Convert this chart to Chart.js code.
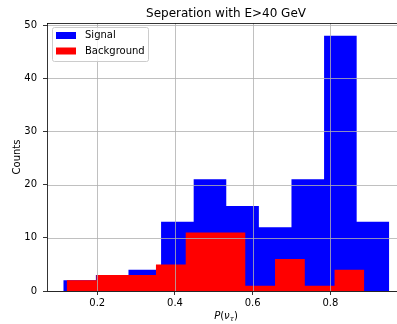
<!DOCTYPE html>
<html>
<head>
<meta charset="utf-8">
<script src="https://cdn.jsdelivr.net/npm/chart.js@4.4.0/dist/chart.umd.min.js"></script>
<style>
  html, body { margin: 0; padding: 0; background: #fff; overflow: hidden; }
  canvas { display: block; }
</style>
</head>
<body>
<canvas id="myChart" width="397" height="324"></canvas>
<script>
// histogram bin edges and counts
const signalEdges = [0.1125, 0.1964, 0.2803, 0.3642, 0.4481, 0.532, 0.6159, 0.6998, 0.7837, 0.8676, 0.9515];
const signalCounts = [2, 3, 4, 13, 21, 16, 12, 21, 48, 13];
const backgroundEdges = [0.1212, 0.1978, 0.2744, 0.351, 0.4276, 0.5042, 0.5809, 0.6575, 0.7341, 0.8107, 0.8873];
const backgroundCounts = [2, 3, 3, 5, 11, 11, 1, 6, 1, 4];
const xTicks = [0.2, 0.4, 0.6, 0.8];
const yTicks = [0, 10, 20, 30, 40, 50];
const chartTitle = "Seperation with E>40 GeV";
const yTitle = "Counts";

const FONT = '"DejaVu Sans", sans-serif';

// step points: each bin value holds from its left edge to the next edge
function histPoints(edges, counts) {
    const pts = counts.map((c, i) => ({ x: edges[i], y: c }));
    pts.push({ x: edges[edges.length - 1], y: counts[counts.length - 1] });
    return pts;
}

const overlay = {
    id: "overlay",
    afterDatasetsDraw(chart) {
        const { ctx, chartArea: a, scales: { x, y } } = chart;
        ctx.save();
        // grid sits above the bars like in matplotlib
        ctx.strokeStyle = "#b0b0b0";
        ctx.lineWidth = 0.8;
        ctx.beginPath();
        xTicks.forEach((v) => {
            const px = Math.round(x.getPixelForValue(v)) + 0.5;
            ctx.moveTo(px, a.top);
            ctx.lineTo(px, a.bottom);
        });
        yTicks.forEach((v) => {
            const py = Math.round(y.getPixelForValue(v)) + 0.5;
            ctx.moveTo(a.left, py);
            ctx.lineTo(a.right, py);
        });
        ctx.stroke();

        // spines
        ctx.strokeStyle = "#000";
        ctx.lineWidth = 0.8;
        ctx.beginPath();
        ctx.moveTo(a.left, a.top + 0.5);
        ctx.lineTo(a.right, a.top + 0.5);
        ctx.moveTo(a.left + 0.5, a.top);
        ctx.lineTo(a.left + 0.5, a.bottom);
        ctx.moveTo(a.left, a.bottom + 0.5);
        ctx.lineTo(a.right, a.bottom + 0.5);
        ctx.stroke();

        // legend
        ctx.fillStyle = "rgba(255,255,255,0.8)";
        ctx.strokeStyle = "#cccccc";
        ctx.lineWidth = 1;
        ctx.beginPath();
        ctx.roundRect(52.5, 27.5, 96, 34, 2);
        ctx.fill();
        ctx.stroke();
        const sets = [chart.data.datasets[0], chart.data.datasets[1]];
        ctx.font = "10px " + FONT;
        ctx.textBaseline = "middle";
        ctx.textAlign = "left";
        sets.forEach((ds, i) => {
            const cy = 35.5 + i * 15.5;
            ctx.fillStyle = ds.backgroundColor;
            ctx.fillRect(56, cy - 3.5, 20, 7);
            ctx.fillStyle = "#000";
            ctx.fillText(ds.label, 85, cy);
        });

        // title
        ctx.font = "12px " + FONT;
        ctx.textAlign = "center";
        ctx.textBaseline = "alphabetic";
        ctx.fillText(chartTitle, 226, 16.5);

        // x label: P(nu_tau)
        const base = 319;
        const parts = [
            { t: "P", f: "italic 10px " + FONT, dy: 0 },
            { t: "(", f: "10px " + FONT, dy: 0 },
            { t: "\u03bd", f: "italic 10px " + FONT, dy: 0 },
            { t: "\u03c4", f: "italic 7px " + FONT, dy: 2 },
            { t: ")", f: "10px " + FONT, dy: 0 },
        ];
        let w = 0;
        parts.forEach((p) => { ctx.font = p.f; p.w = ctx.measureText(p.t).width; w += p.w; });
        let cx = 226 - w / 2;
        ctx.textAlign = "left";
        parts.forEach((p) => {
            ctx.font = p.f;
            ctx.fillText(p.t, cx, base + p.dy);
            cx += p.w;
        });
        ctx.restore();
    },
};

const data = {
    datasets: [
        {
            label: "Signal",
            data: histPoints(signalEdges, signalCounts),
            backgroundColor: "#0000ff",
            borderColor: "#0000ff",
            borderWidth: 0,
            pointRadius: 0,
            stepped: "before",
            fill: "origin",
            order: 1,
        },
        {
            label: "Background",
            data: histPoints(backgroundEdges, backgroundCounts),
            backgroundColor: "#ff0000",
            borderColor: "#ff0000",
            borderWidth: 0,
            pointRadius: 0,
            stepped: "before",
            fill: "origin",
            order: 0,
        },
    ],
};

const config = {
    type: "line",
    data: data,
    options: {
        responsive: false,
        animation: false,
        devicePixelRatio: 1,
        layout: { padding: { top: 23, left: 0, right: 0, bottom: 0 } },
        plugins: {
            legend: { display: false },
            tooltip: { enabled: false },
            title: { display: false },
        },
        scales: {
            x: {
                type: "linear",
                min: 0.0706,
                max: 0.9714,
                afterBuildTicks: (s) => { s.ticks = xTicks.map((v) => ({ value: v })); },
                afterFit: (s) => { s.height = 33; },
                ticks: {
                    color: "#000",
                    font: { family: FONT, size: 10 },
                    padding: 2,
                    maxRotation: 0,
                    callback: (v) => v.toFixed(1),
                },
                grid: { drawOnChartArea: false, drawTicks: true, tickLength: 4, color: "#000", lineWidth: 0.8 },
                border: { display: false },
            },
            y: {
                min: 0,
                max: 50.4,
                afterBuildTicks: (s) => { s.ticks = yTicks.map((v) => ({ value: v })); },
                afterFit: (s) => { s.width = 47; },
                ticks: {
                    color: "#000",
                    font: { family: FONT, size: 10 },
                    padding: 6,
                },
                grid: { drawOnChartArea: false, drawTicks: true, tickLength: 4, color: "#000", lineWidth: 0.8 },
                border: { display: false },
                title: {
                    display: true,
                    text: yTitle,
                    color: "#000",
                    font: { family: FONT, size: 10 },
                    padding: { top: 11, bottom: 0 },
                },
            },
        },
    },
    plugins: [overlay],
};

new Chart(document.getElementById("myChart"), config);
</script>
</body>
</html>
